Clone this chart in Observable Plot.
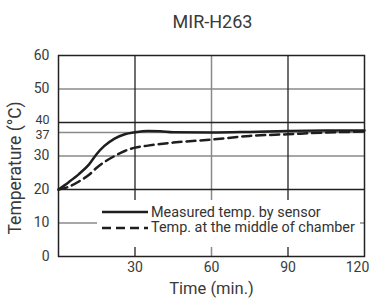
<!DOCTYPE html>
<html>
<head>
<meta charset="utf-8">
<script src="https://cdn.jsdelivr.net/npm/d3@7"></script>
<script src="https://cdn.jsdelivr.net/npm/@observablehq/plot@0.6"></script>
<style>
  html, body { margin: 0; padding: 0; background: #fff; }
  #wrap { position: relative; width: 375px; height: 299px; font-family: Roboto, "DejaVu Sans", sans-serif; }
  #legend { position: absolute; left: 97px; top: 200px; width: 263px; height: 47px; background: #fff; }
  #legend .row { position: absolute; left: 5px; height: 16px; display: flex; align-items: center; font-size: 14.4px; color: #333; white-space: nowrap; }
  #legend svg { margin-right: 3px; }
</style>
</head>
<body>
<div id="wrap"></div>
<script>
const chartTitle = "MIR-H263";
const xLabel = "Time (min.)";
const yLabel = "Temperature (°C)";
const seriesNames = ["Measured temp. by sensor", "Temp. at the middle of chamber"];

const time     = [0, 4, 8, 12, 15, 18, 22, 26, 30, 35, 40, 45, 60, 75, 90, 105, 120];
const measured = [20, 22.2, 24.6, 27.5, 30.6, 33.0, 35.2, 36.5, 37.1, 37.5, 37.4, 37.1, 37.0, 37.2, 37.5, 37.6, 37.6];
const chamber  = [20, 20.8, 22.4, 24.4, 26.5, 28.2, 30.0, 31.5, 32.5, 33.1, 33.6, 34.0, 34.9, 36.0, 36.5, 37.0, 37.3];

const yTicks = [0, 10, 20, 30, 50, 60];
const yTickUpper = [40];
const yTickLower = [37];
const xTicks = [30, 60, 90];
const xTickLast = [120];
const gridYDark = [20, 40];
const gridYLight = [10, 30, 37, 50];
const gridXDark = [30, 90];
const gridXLight = [60];

const rowsM = time.map((t, i) => ({t, v: measured[i]}));
const rowsC = time.map((t, i) => ({t, v: chamber[i]}));

const ink = "#1e1e1e";
const textCol = "#3a3a3a";

const plot = Plot.plot({
  width: 375,
  height: 299,
  marginLeft: 58,
  marginRight: 11,
  marginTop: 55,
  marginBottom: 43,
  style: {fontFamily: "Roboto, 'DejaVu Sans', sans-serif", background: "#fff", color: textCol},
  x: {domain: [0, 120]},
  y: {domain: [0, 60]},
  marks: [
    Plot.ruleY(gridYLight, {stroke: "#8a8a8a", strokeWidth: 1.5}),
    Plot.ruleX(gridXLight, {stroke: "#8a8a8a", strokeWidth: 1.5}),
    Plot.ruleY(gridYDark, {stroke: "#222", strokeWidth: 1.3}),
    Plot.ruleX(gridXDark, {stroke: "#222", strokeWidth: 1.3}),
    Plot.frame({stroke: "#222", strokeWidth: 1.5}),
    Plot.axisY(yTicks, {tickSize: 0, tickPadding: 9, fontSize: 14, label: null, fill: textCol}),
    Plot.axisY(yTickUpper, {tickSize: 0, tickPadding: 9, fontSize: 12.5, label: null, fill: textCol, dy: -2.5}),
    Plot.axisY(yTickLower, {tickSize: 0, tickPadding: 9, fontSize: 12.5, label: null, fill: textCol, dy: 2.5}),
    Plot.axisX(xTicks, {tickSize: 0, tickPadding: 6, fontSize: 14, label: null, fill: textCol}),
    Plot.axisX(xTickLast, {tickSize: 0, tickPadding: 6, fontSize: 14, label: null, fill: textCol, dx: -7}),
    Plot.line(rowsC, {x: "t", y: "v", stroke: ink, strokeWidth: 2.5, strokeDasharray: "9,5", curve: "monotone-x"}),
    Plot.line(rowsM, {x: "t", y: "v", stroke: ink, strokeWidth: 2.5, curve: "monotone-x"}),
    Plot.text([chartTitle], {frameAnchor: "top", lineAnchor: "middle", dy: -33, dx: 1, fontSize: 18, fill: textCol}),
    Plot.text([xLabel], {frameAnchor: "bottom", lineAnchor: "middle", dy: 32.5, fontSize: 16.5, fill: textCol}),
    Plot.text([yLabel], {frameAnchor: "left", textAnchor: "middle", lineAnchor: "middle", rotate: -90, dx: -43, dy: 12, fontSize: 17.5, fill: textCol})
  ]
});

const wrap = document.getElementById("wrap");
wrap.appendChild(plot);

const legend = document.createElement("div");
legend.id = "legend";
const dashes = [null, "9,5"];
seriesNames.forEach((name, i) => {
  const row = document.createElement("div");
  row.className = "row";
  row.style.top = (i === 0 ? 4 : 19.5) + "px";
  const svg = d3.create("svg").attr("width", 46).attr("height", 6);
  svg.append("line").attr("x1", 0).attr("x2", 46).attr("y1", 3).attr("y2", 3)
    .attr("stroke", ink).attr("stroke-width", 2.5)
    .attr("stroke-dasharray", dashes[i]);
  row.appendChild(svg.node());
  const span = document.createElement("span");
  span.textContent = name;
  row.appendChild(span);
  legend.appendChild(row);
});
wrap.appendChild(legend);
</script>
</body>
</html>
